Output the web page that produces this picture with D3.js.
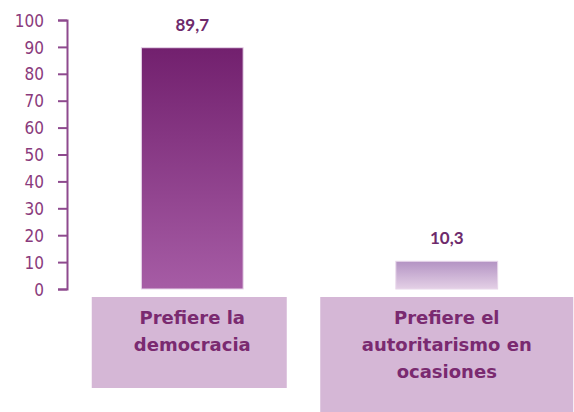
<!DOCTYPE html>
<meta charset="utf-8">
<style>
body { margin: 0; background: #fff; }
svg text { font-family: Lato, "Open Sans", sans-serif; }
</style>
<body>
<script src="https://cdn.jsdelivr.net/npm/d3@7"></script>
<script>
// data
var categories = ["Prefiere la democracia", "Prefiere el autoritarismo en ocasiones"];
var values = [89.7, 10.3];
var labelLines = [["Prefiere la", "democracia"], ["Prefiere el", "autoritarismo en", "ocasiones"]];
var tickValues = [0, 10, 20, 30, 40, 50, 60, 70, 80, 90, 100];

var width = 574, height = 412;

var svg = d3.select("body").append("svg")
  .attr("width", width)
  .attr("height", height);

var x = d3.scaleBand()
  .domain(categories)
  .range([65, 574])
  .paddingInner(0.6)
  .paddingOuter(0.3);

var y = d3.scaleLinear()
  .domain([0, 100])
  .range([289, 20]);

// gradients
var defs = svg.append("defs");
var grads = [
  {id: "g0", top: "#72206e", bottom: "#a65ca5"},
  {id: "g1", top: "#b393c3", bottom: "#e4d0e6"}
];
grads.forEach(function(g) {
  var lg = defs.append("linearGradient")
    .attr("id", g.id)
    .attr("x1", 0).attr("y1", 0).attr("x2", 0).attr("y2", 1);
  lg.append("stop").attr("offset", "0%").attr("stop-color", g.top);
  lg.append("stop").attr("offset", "100%").attr("stop-color", g.bottom);
});

// axis
var axis = svg.append("g")
  .attr("transform", "translate(67,0)")
  .call(d3.axisLeft(y).tickValues(tickValues).tickSize(9).tickSizeOuter(9).tickPadding(14));
axis.select(".domain").attr("stroke", "#8e4a8e").attr("stroke-width", 2);
axis.selectAll(".tick line").attr("stroke", "#8e4a8e").attr("stroke-width", 2);
axis.selectAll(".tick text")
  .attr("fill", "#8a3a7c")
  .style("font-size", "17px")
  .style("font-family", "'Liberation Sans Narrow', 'DejaVu Sans Condensed', sans-serif")
  .attr("dy", "0.36em");

// bars
svg.selectAll(".bar")
  .data(values)
  .enter().append("rect")
  .attr("class", "bar")
  .attr("x", function(d, i) { return x(categories[i]); })
  .attr("y", function(d) { return y(d); })
  .attr("width", x.bandwidth())
  .attr("height", function(d) { return y(0) - y(d); })
  .attr("fill", function(d, i) { return "url(#g" + i + ")"; })
  .attr("stroke", "#e8d6ea")
  .attr("stroke-width", 1);

// value labels
svg.selectAll(".val")
  .data(values)
  .enter().append("text")
  .attr("class", "val")
  .attr("x", function(d, i) { return x(categories[i]) + x.bandwidth() / 2; })
  .attr("y", function(d) { return y(d) - 17; })
  .attr("text-anchor", "middle")
  .attr("fill", "#6e2a6c")
  .style("font-size", "17px")
  .style("font-weight", "bold")
  .text(function(d) { return d3.format(".1f")(d).replace(".", ","); });

// category label boxes
var boxW = [195, 253], boxH = [91, 120], boxShift = [-3, 0];
var box = svg.selectAll(".lab")
  .data(categories)
  .enter().append("g")
  .attr("class", "lab")
  .attr("transform", function(d, i) {
    return "translate(" + (x(d) + x.bandwidth() / 2 + boxShift[i]) + ",297)";
  });

box.append("rect")
  .attr("x", function(d, i) { return -boxW[i] / 2; })
  .attr("y", 0)
  .attr("width", function(d, i) { return boxW[i]; })
  .attr("height", function(d, i) { return boxH[i]; })
  .attr("fill", "#d5b7d6");

box.each(function(d, i) {
  var g = d3.select(this);
  labelLines[i].forEach(function(line, j) {
    g.append("text")
      .attr("x", -boxShift[i])
      .attr("y", 27 + j * 27)
      .attr("text-anchor", "middle")
      .attr("fill", "#7a2a70")
      .style("font-family", "'DejaVu Sans', sans-serif")
      .style("font-size", "18px")
      .style("font-weight", "bold")
      .text(line);
  });
});
</script>
</body>
